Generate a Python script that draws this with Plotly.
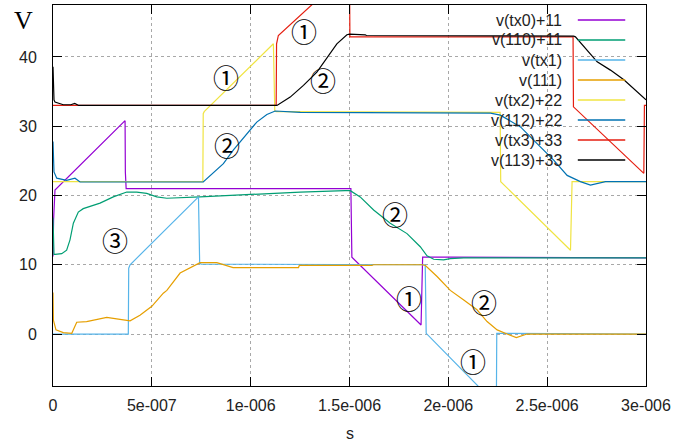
import plotly.graph_objects as go

# time in microseconds, voltage in V
names = ["v(tx0)+11", "v(110)+11", "v(tx1)", "v(111)", "v(tx2)+22", "v(112)+22", "v(tx3)+33", "v(113)+33"]
colors = ["#9400d3", "#009e73", "#56b4e9", "#e69f00", "#f0e442", "#0072b2", "#e51e10", "#000000"]

t_tx0 = [0, 0.003, 0.01, 0.3646, 0.366, 0.37, 1.507, 1.512, 1.862, 1.87, 2.0, 3.0]
v_tx0 = [11.2, 16.5, 20.8, 30.8, 23.4, 21.0, 21.0, 11.1, 1.3, 11.1, 11.1, 11.0]

t_110 = [0, 0.005, 0.010, 0.044, 0.069, 0.086, 0.103, 0.128, 0.153, 0.238, 0.305, 0.373, 0.424, 0.474,
         0.525, 0.576, 0.744, 0.997, 1.251, 1.478, 1.504, 1.554, 1.622, 1.706, 1.791, 1.858, 1.892,
         1.926, 1.976, 2.010, 2.078, 3.0]
v_110 = [16.8, 11.5, 11.5, 11.6, 12.1, 13.6, 16.0, 17.6, 18.1, 18.9, 19.8, 20.5, 20.5, 20.3,
         19.8, 19.6, 19.8, 20.2, 20.5, 20.7, 20.7, 19.8, 17.9, 16.0, 14.5, 12.6, 11.3,
         10.8, 10.7, 10.9, 11.0, 11.0]

t_tx1 = [0, 0.381, 0.383, 0.39, 0.736, 0.742, 0.75, 1.883, 1.888, 2.243, 2.245, 3.0]
v_tx1 = [0, 0, 9.5, 10.0, 19.8, 10.2, 10.1, 10.0, 0.1, -10.2, 0.1, 0.0]

t_111 = [0, 0.002, 0.015, 0.052, 0.095, 0.12, 0.17, 0.22, 0.272, 0.322, 0.39, 0.44, 0.5, 0.558,
         0.576, 0.643, 0.744, 0.829, 0.879, 0.911, 1.242, 1.246, 1.614, 1.62, 1.868, 1.884, 1.943,
         1.993, 2.010, 2.078, 2.145, 2.196, 2.247, 2.297, 2.344, 2.398, 3.0]
v_111 = [6.0, 2.0, 0.6, 0.2, 0.1, 1.7, 1.8, 2.1, 2.4, 2.2, 1.9, 2.7, 4.0, 5.9,
         6.3, 8.8, 10.3, 10.3, 9.9, 9.6, 9.6, 9.9, 9.9, 10.0, 10.0, 9.9, 8.3,
         6.8, 6.3, 4.9, 3.5, 1.8, 0.6, 0.0, -0.5, 0.0, 0.0]

t_tx2 = [0, 0.758, 0.76, 0.765, 1.115, 1.122, 1.13, 2.262, 2.265, 2.618, 2.626, 3.0]
v_tx2 = [22.0, 22.0, 31.8, 32.1, 41.9, 32.2, 32.1, 32.0, 22.0, 12.1, 22.0, 22.0]

t_112 = [0, 0.005, 0.019, 0.069, 0.111, 0.137, 0.760, 0.795, 0.862, 0.913, 0.981, 1.031, 1.082,
         1.124, 1.251, 2.213, 2.263, 2.365, 2.449, 2.533, 2.601, 2.668, 2.719, 2.770, 2.795, 3.0]
v_112 = [27.8, 23.4, 22.5, 22.2, 22.5, 21.95, 21.95, 22.9, 24.6, 26.6, 29.0, 30.6, 31.7,
         32.2, 32.0, 31.9, 31.6, 29.9, 27.5, 25.1, 22.9, 22.0, 21.5, 21.8, 22.0, 22.0]

t_tx3 = [0, 1.129, 1.131, 1.14, 1.5, 1.502, 2.631, 2.633, 2.989, 2.992, 3.0]
v_tx3 = [33.0, 33.0, 41.9, 43.1, 52.5, 42.9, 42.9, 32.8, 23.2, 33.0, 33.0]

t_113 = [0, 0.005, 0.01, 0.035, 0.052, 0.09, 0.11, 0.13, 1.133, 1.2, 1.267, 1.335, 1.386, 1.436,
         1.487, 1.5, 1.58, 1.585, 2.634, 2.643, 2.753, 2.820, 2.888, 3.0]
v_113 = [38.6, 33.8, 33.5, 33.3, 33.1, 33.1, 33.3, 33.0, 33.0, 34.2, 35.9, 37.8, 39.8, 41.9,
         43.2, 43.3, 43.2, 43.1, 43.0, 42.9, 39.3, 38.1, 36.7, 33.8]

series_t = [t_tx0, t_110, t_tx1, t_111, t_tx2, t_112, t_tx3, t_113]
series_v = [v_tx0, v_110, v_tx1, v_111, v_tx2, v_112, v_tx3, v_113]

x_tickvals = [0, 0.5e-6, 1e-6, 1.5e-6, 2e-6, 2.5e-6, 3e-6]
x_ticktext = ["0", "5e-007", "1e-006", "1.5e-006", "2e-006", "2.5e-006", "3e-006"]
y_tickvals = [0, 10, 20, 30, 40]

# circled labels (time in us, voltage)
marks_t = [1.271, 0.876, 1.367, 0.881, 0.314, 1.732, 1.803, 2.182, 2.127]
marks_v = [43.8, 37.2, 36.8, 27.3, 13.7, 17.4, 5.3, 4.7, -3.8]
marks_txt = ["①", "①", "②", "②", "③", "②", "①", "②", "①"]

fig = go.Figure()
for n, c, tt, vv in zip(names, colors, series_t, series_v):
    fig.add_trace(go.Scatter(x=[a * 1e-6 for a in tt], y=vv, mode="lines", name=n,
                             line=dict(color=c, width=1.2), showlegend=False))

for tt, vv, s in zip(marks_t, marks_v, marks_txt):
    fig.add_annotation(x=tt * 1e-6, y=vv, text=s, showarrow=False,
                       font=dict(family="Noto Sans CJK JP", size=26, color="black"))

# gnuplot-style key: right aligned text, sample line to the right
for i, (n, c) in enumerate(zip(names, colors)):
    py = 1 - (15 + 20 * i) / 381.0
    fig.add_annotation(x=0.861, y=py, xref="paper", yref="paper", text=n, showarrow=False,
                       xanchor="right", yanchor="middle",
                       font=dict(family="Liberation Sans", size=16, color="#222"))
    fig.add_shape(type="line", xref="paper", yref="paper", x0=0.885, x1=0.965, y0=py, y1=py,
                  line=dict(color=c, width=1.5))

fig.add_annotation(x=-0.049, y=0.959, xref="paper", yref="paper", text="V", showarrow=False,
                   xanchor="center", yanchor="middle",
                   font=dict(family="Liberation Serif", size=26, color="black"))
fig.add_annotation(x=0.5, y=-0.125, xref="paper", yref="paper", text="s", showarrow=False,
                   xanchor="center", yanchor="middle",
                   font=dict(family="Liberation Sans", size=16, color="#222"))

axis_common = dict(showline=True, linecolor="black", linewidth=1, mirror="ticks",
                   ticks="inside", ticklen=9, tickcolor="black", showgrid=True,
                   gridcolor="#a8a8a8", griddash="dot", gridwidth=1, zeroline=False,
                   automargin=False,
                   tickfont=dict(family="Liberation Sans", size=16, color="#222"))

fig.update_xaxes(range=[0, 3e-6], tickvals=x_tickvals, ticktext=x_ticktext,
                 ticklabelstandoff=5, **axis_common)
fig.update_yaxes(range=[-7.5, 47.5], tickvals=y_tickvals, ticklabelstandoff=12, **axis_common)

fig.update_layout(width=685, height=442, margin=dict(l=53, r=39, t=5, b=56),
                  plot_bgcolor="white", paper_bgcolor="white")

fig.write_html("out.html", config={"displayModeBar": False},
               post_script="document.body.style.margin='0';document.body.style.overflow='hidden';")
